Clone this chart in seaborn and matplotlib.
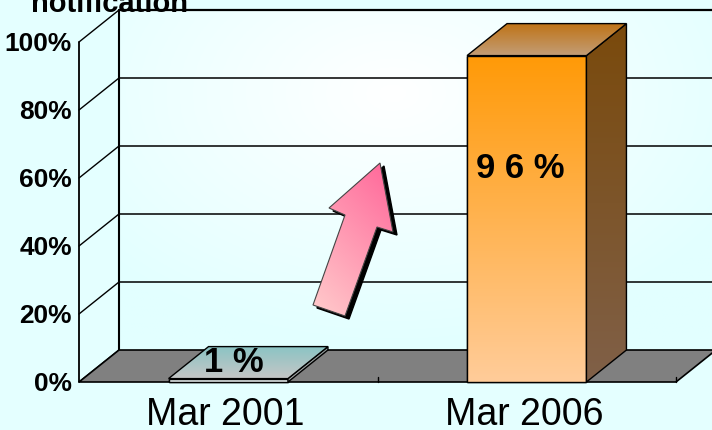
import numpy as np
import matplotlib
matplotlib.use("Agg")
import matplotlib.pyplot as plt
import seaborn as sns
from matplotlib.patches import Polygon
from matplotlib.colors import LinearSegmentedColormap, to_rgb
from matplotlib import font_manager

# data
dates = ["Mar 2001", "Mar 2006"]
pct = [1, 96]
pct_labels = ["1 %", "9 6 %"]
yticks = [0, 20, 40, 60, 80, 100]
ytick_labels = ["0%", "20%", "40%", "60%", "80%", "100%"]
axis_title = "notification"

# face colours per bar: (top of face, bottom of face)
front_colors = [("#f2f8f8", "#e2eaea"), ("#ff9a08", "#ffcc99")]
side_colors = [("#8f9a9a", "#a8a8a8"), ("#7a4a0c", "#806048")]
top_colors = [("#8cc4c4", "#c6c6c6"), ("#bf7418", "#c39e78")]

# pixel frame of the front plane, and the depth offset of the box
W, H = 712, 430
L, R, B, T = 79, 676, 382, 42
sx = (R - L) / len(dates)
sy = (B - T) / 100
DX, DY = 40 / sx, 32 / sy


def dx(px):
    return -0.5 + (px - L) / sx


def dy(py):
    return (B - py) / sy


sns.set_theme(style="white")
plt.rcParams["font.family"] = ["Liberation Sans", "DejaVu Sans"]
plt.rcParams["text.color"] = "black"

# pick a condensed face if one is installed
installed = {f.name for f in font_manager.fontManager.ttflist}
narrow = [f for f in ["Liberation Sans Narrow", "DejaVu Sans Condensed"] if f in installed]
narrow_scale = 1.0 if narrow else 0.86
narrow = narrow + ["Liberation Sans", "DejaVu Sans"]

fig = plt.figure(figsize=(W / 100, H / 100), dpi=100, facecolor="#e4ffff")
ax = fig.add_axes([0, 0, 1, 1])
x0, x1 = dx(0), dx(W)
y0, y1 = dy(H), dy(0)


def shade(xy, c_hi, c_lo, z, ec="black", lw=1.0, direction=(0, 1)):
    # polygon filled with a linear gradient, c_lo -> c_hi along direction
    xy = np.asarray(xy, dtype=float)
    poly = Polygon(xy, closed=True, fc="none", ec=ec, lw=lw, zorder=z + 0.01,
                   joinstyle="miter")
    ax.add_patch(poly)
    ext = (xy[:, 0].min(), xy[:, 0].max(), xy[:, 1].min(), xy[:, 1].max())
    gx, gy = np.meshgrid(np.linspace(0, 1, 100), np.linspace(0, 1, 100))
    t = gx * direction[0] + gy * direction[1]
    t = (t - t.min()) / (t.max() - t.min())
    cmap = LinearSegmentedColormap.from_list("g", [c_lo, c_hi])
    im = ax.imshow(t, cmap=cmap, extent=ext, origin="lower", aspect="auto",
                   zorder=z, interpolation="bilinear")
    im.set_clip_path(poly)
    return poly


# back wall with a soft light centre
wall = np.array([(-0.5 + DX, DY), (x1 + 0.2, DY), (x1 + 0.2, 100 + DY), (-0.5 + DX, 100 + DY)])
wpoly = Polygon(wall, closed=True, fc="none", ec="none", zorder=0.5)
ax.add_patch(wpoly)
gx, gy = np.meshgrid(np.linspace(wall[0, 0], wall[1, 0], 200), np.linspace(DY, 100 + DY, 200))
d = np.clip(np.sqrt(((gx - 0.55) / 1.3) ** 2 + ((gy - 85) / 75) ** 2), 0, 1)
c_in, c_out = np.array(to_rgb("#ffffff")), np.array(to_rgb("#e2ffff"))
img = c_in * (1 - d[..., None]) + c_out * d[..., None]
im = ax.imshow(img, extent=(wall[0, 0], wall[1, 0], DY, 100 + DY), origin="lower",
               aspect="auto", zorder=0.4)
im.set_clip_path(wpoly)

# wall lines
for v in yticks:
    ax.plot([-0.5, -0.5 + DX], [v, v + DY], color="black", lw=1.0, zorder=1)
    if v > 0:
        ax.plot([-0.5 + DX, x1 + 0.2], [v + DY, v + DY], color="black",
                lw=1.6 if v == 100 else 1.3, zorder=1, alpha=0.85 if v < 100 else 1)
ax.plot([-0.5, -0.5], [0, 100], color="black", lw=1.3, zorder=1)
ax.plot([-0.5 + DX, -0.5 + DX], [DY, 100 + DY], color="black", lw=1.5, zorder=1)

# floor
floor = [(-0.5, 0), (1.5, 0), (1.5 + DX, DY), (-0.5 + DX, DY)]
ax.add_patch(Polygon(floor, closed=True, fc="#808080", ec="black", lw=1.2, zorder=2))
for xt in [0.5, 1.5]:
    ax.plot([xt, xt], [0, 1.6], color="black", lw=1.0, zorder=2.1)

# front faces of the bars
sns.barplot(x=dates, y=pct, hue=dates, palette=[c[1] for c in front_colors],
            width=0.4, legend=False, ax=ax, edgecolor="black", linewidth=1.0)

for i, rect in enumerate(list(ax.patches)[-len(dates):]):
    xl, w, h = rect.get_x(), rect.get_width(), rect.get_height()
    xr = xl + w
    z = 3 + i
    rect.set_zorder(z)
    shade([(xl, 0), (xr, 0), (xr, h), (xl, h)], *front_colors[i], z + 0.1, lw=1.0)
    shade([(xr, 0), (xr + DX, DY), (xr + DX, h + DY), (xr, h)], *side_colors[i], z + 0.2, lw=1.0)
    shade([(xl, h), (xr, h), (xr + DX, h + DY), (xl + DX, h + DY)], *top_colors[i], z + 0.3, lw=1.0)

# pink arrow (decoration), defined in pixels
arrow_px = [(380, 163), (393, 232), (377, 227), (345, 316), (313, 305), (345, 215), (329, 208)]
shadow = [(dx(px + 4), dy(py + 3)) for px, py in arrow_px]
ax.add_patch(Polygon(shadow, closed=True, fc="black", ec="black", lw=1, zorder=6))
shade([(dx(px), dy(py)) for px, py in arrow_px], "#ff6699", "#ffcccc", 6.5,
      ec="#444444", lw=0.8, direction=(0.55, 1.0))

# texts
for v, lab in zip(yticks, ytick_labels):
    ax.text(dx(72), v - 0.7, lab, ha="right", va="center", fontsize=22 * narrow_scale,
            fontweight="bold", family=narrow, color="black")
for i, lab in enumerate(dates):
    ax.text(i - 0.01, dy(425), lab, ha="center", va="baseline", fontsize=27, color="black")
ax.text(dx(234), dy(372), pct_labels[0], ha="center", va="baseline", fontsize=29 * narrow_scale,
        fontweight="bold", family=narrow, color="black", zorder=8)
ax.text(dx(520), dy(178), pct_labels[1], ha="center", va="baseline", fontsize=29 * narrow_scale,
        fontweight="bold", family=narrow, color="black", zorder=8)
ax.text(dx(110), dy(12), axis_title, ha="center", va="baseline", fontsize=21,
        fontweight="bold", color="black", zorder=8)

ax.set_axis_off()
ax.set_xlim(x0, x1)
ax.set_ylim(y0, y1)
fig.savefig("out.png", dpi=100, facecolor=fig.get_facecolor())
